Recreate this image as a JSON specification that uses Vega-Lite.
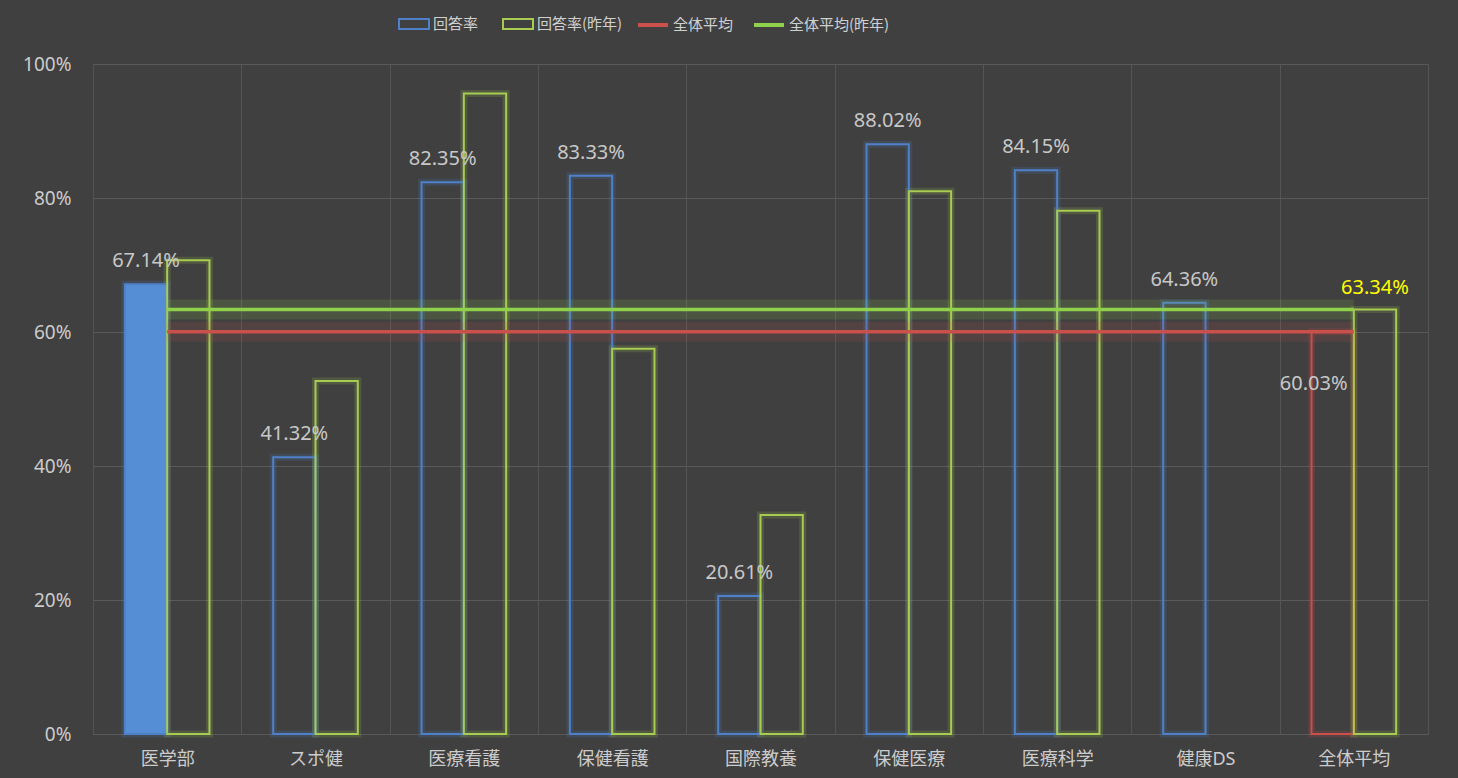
{
  "$schema": "https://vega.github.io/schema/vega-lite/v6.json",
  "autosize": "none",
  "width": 1335,
  "height": 670,
  "padding": {"left": 93, "top": 64, "right": 30, "bottom": 44},
  "background": "#404040",
  "config": {
    "font": "Noto Sans, Noto Sans CJK JP",
    "view": {"stroke": "#595959", "strokeWidth": 1},
    "axis": {"labelFont": "Noto Sans, Noto Sans CJK JP"},
    "legend": {"labelFont": "Noto Sans CJK JP", "labelFontSize": 15, "labelColor": "#d0d0d0", "labelOffset": 3, "columnPadding": 20}
  },
  "datasets": {
    "bars": [
      {"cat": "医学部", "slot": "今年", "series": "回答率", "value": 0.6714},
      {"cat": "医学部", "slot": "昨年", "series": "回答率(昨年)", "value": 0.707},
      {"cat": "スポ健", "slot": "今年", "series": "回答率", "value": 0.4132},
      {"cat": "スポ健", "slot": "昨年", "series": "回答率(昨年)", "value": 0.527},
      {"cat": "医療看護", "slot": "今年", "series": "回答率", "value": 0.8235},
      {"cat": "医療看護", "slot": "昨年", "series": "回答率(昨年)", "value": 0.956},
      {"cat": "保健看護", "slot": "今年", "series": "回答率", "value": 0.8333},
      {"cat": "保健看護", "slot": "昨年", "series": "回答率(昨年)", "value": 0.575},
      {"cat": "国際教養", "slot": "今年", "series": "回答率", "value": 0.2061},
      {"cat": "国際教養", "slot": "昨年", "series": "回答率(昨年)", "value": 0.327},
      {"cat": "保健医療", "slot": "今年", "series": "回答率", "value": 0.8802},
      {"cat": "保健医療", "slot": "昨年", "series": "回答率(昨年)", "value": 0.81},
      {"cat": "医療科学", "slot": "今年", "series": "回答率", "value": 0.8415},
      {"cat": "医療科学", "slot": "昨年", "series": "回答率(昨年)", "value": 0.781},
      {"cat": "健康DS", "slot": "今年", "series": "回答率", "value": 0.6436},
      {"cat": "全体平均", "slot": "今年", "series": "回答率", "value": 0.6003},
      {"cat": "全体平均", "slot": "昨年", "series": "回答率(昨年)", "value": 0.6334}
    ],
    "lines": [
      {"series": "全体平均", "cat": "医学部", "value": 0.6003},
      {"series": "全体平均", "cat": "全体平均", "value": 0.6003},
      {"series": "全体平均(昨年)", "cat": "医学部", "value": 0.6334},
      {"series": "全体平均(昨年)", "cat": "全体平均", "value": 0.6334}
    ]
  },
  "encoding": {
    "x": {
      "field": "cat",
      "type": "nominal",
      "sort": ["医学部", "スポ健", "医療看護", "保健看護", "国際教養", "保健医療", "医療科学", "健康DS", "全体平均"],
      "scale": {"paddingInner": 0, "paddingOuter": 0},
      "axis": {
        "title": null,
        "labelAngle": 0,
        "labelFontSize": 18,
        "labelColor": "#cccccc",
        "labelPadding": 16,
        "ticks": false,
        "domainColor": "#595959",
        "grid": true,
        "gridColor": "#555555",
        "tickBand": "extent"
      }
    },
    "y": {
      "field": "value",
      "type": "quantitative",
      "scale": {"domain": [0, 1], "nice": false},
      "axis": {
        "title": null,
        "values": [0, 0.2, 0.4, 0.6, 0.8, 1],
        "format": ".0%",
        "labelFontSize": 19,
        "labelColor": "#cccccc",
        "labelPadding": 22,
        "ticks": false,
        "domain": false,
        "gridColor": "#595959"
      }
    }
  },
  "layer": [
    {
      "data": {"name": "bars"},
      "mark": {"type": "bar", "strokeWidth": 7, "strokeOpacity": 0.18, "fill": "transparent"},
      "encoding": {
        "xOffset": {"field": "slot", "type": "nominal", "scale": {"domain": ["今年", "昨年"], "paddingInner": 0, "paddingOuter": 0.753}},
        "stroke": {
          "condition": {"test": "datum.cat === '全体平均' && datum.slot === '今年'", "value": "#C9504B"},
          "field": "series",
          "type": "nominal",
          "scale": {"domain": ["回答率", "回答率(昨年)"], "range": ["#4F81C9", "#A8CC52"]},
          "legend": {
            "title": null,
            "orient": "none",
            "direction": "horizontal",
            "legendX": 305,
            "legendY": -56,
            "symbolType": "M-1,-0.33H1V0.33H-1Z",
            "symbolSize": 900,
            "symbolStrokeWidth": 2,
            "symbolFillColor": "transparent"
          }
        }
      }
    },
    {
      "data": {"name": "bars"},
      "mark": {"type": "bar", "strokeWidth": 2},
      "encoding": {
        "xOffset": {"field": "slot", "type": "nominal", "scale": {"domain": ["今年", "昨年"], "paddingInner": 0, "paddingOuter": 0.753}},
        "fill": {"condition": {"test": "datum.cat === '医学部' && datum.slot === '今年'", "value": "#558ED5"}, "value": "transparent"},
        "stroke": {
          "condition": {"test": "datum.cat === '全体平均' && datum.slot === '今年'", "value": "#C9504B"},
          "field": "series",
          "type": "nominal"
        }
      }
    },
    {
      "data": {"name": "lines"},
      "mark": {"type": "line", "strokeWidth": 20, "strokeOpacity": 0.14},
      "encoding": {
        "color": {
          "field": "series",
          "type": "nominal",
          "scale": {"domain": ["全体平均", "全体平均(昨年)"], "range": ["#C9504B", "#8FD14A"]},
          "legend": {
            "title": null,
            "orient": "none",
            "direction": "horizontal",
            "legendX": 543,
            "legendY": -56,
            "columnPadding": 12,
            "symbolType": "stroke",
            "symbolSize": 900,
            "symbolStrokeWidth": 4,
            "symbolOpacity": 1
          }
        }
      }
    },
    {
      "data": {"name": "lines"},
      "mark": {"type": "line", "strokeWidth": 3.5},
      "encoding": {
        "color": {"field": "series", "type": "nominal"}
      }
    },
    {
      "data": {"name": "bars"},
      "transform": [{"filter": "datum.slot === '今年' && datum.cat !== '全体平均'"}],
      "mark": {"type": "text", "baseline": "middle", "dy": -23, "fontSize": 20, "color": "#c8c8c8"},
      "encoding": {
        "xOffset": {"field": "slot", "type": "nominal", "scale": {"domain": ["今年", "昨年"], "paddingInner": 0, "paddingOuter": 0.753}},
        "text": {"field": "value", "type": "quantitative", "format": ".2%"}
      }
    },
    {
      "data": {"name": "bars"},
      "transform": [{"filter": "datum.slot === '今年' && datum.cat === '全体平均'"}],
      "mark": {"type": "text", "baseline": "middle", "dy": 52, "dx": -19, "fontSize": 20, "color": "#c8c8c8"},
      "encoding": {
        "xOffset": {"field": "slot", "type": "nominal", "scale": {"domain": ["今年", "昨年"], "paddingInner": 0, "paddingOuter": 0.753}},
        "text": {"field": "value", "type": "quantitative", "format": ".2%"}
      }
    },
    {
      "data": {"name": "bars"},
      "transform": [{"filter": "datum.slot === '昨年' && datum.cat === '全体平均'"}],
      "mark": {"type": "text", "baseline": "middle", "dy": -22, "fontSize": 20, "color": "#ffff00"},
      "encoding": {
        "xOffset": {"field": "slot", "type": "nominal", "scale": {"domain": ["今年", "昨年"], "paddingInner": 0, "paddingOuter": 0.753}},
        "text": {"field": "value", "type": "quantitative", "format": ".2%"}
      }
    }
  ]
}
